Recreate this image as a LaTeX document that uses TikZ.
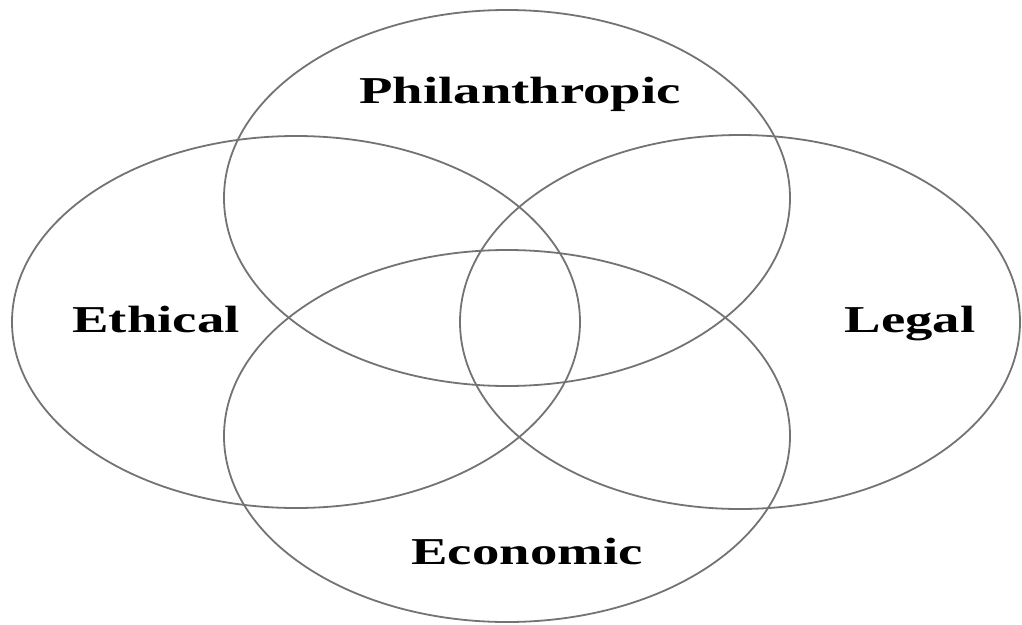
\documentclass[tikz,border=0pt]{standalone}
\usepackage{fontspec}
\setmainfont{Liberation Serif}
\begin{document}
\begin{tikzpicture}[x=1pt,y=-1pt,
  ring/.style={draw=black!55, line width=1.8pt},
  lbl/.style={anchor=base, inner sep=0pt, xscale=1.44, font=\fontsize{38}{40}\selectfont\bfseries, text=black}]
\useasboundingbox (0,0) rectangle (1022,624);
\coordinate (cTop) at (507,198);
\coordinate (cBot) at (507,436);
\coordinate (cLeft) at (296,322);
\coordinate (cRight) at (740,322);
\draw[ring] (cTop) ellipse [x radius=283, y radius=188];
\draw[ring] (cBot) ellipse [x radius=283, y radius=186];
\draw[ring] (cLeft) ellipse [x radius=284, y radius=186];
\draw[ring] (cRight) ellipse [x radius=280, y radius=187];
\node[lbl] (phil) at (520,103) {Philanthropic};
\node[lbl] (eth) at (156,332) {Ethical};
\node[lbl] (leg) at (910,332) {Legal};
\node[lbl] (eco) at (527,564) {Economic};
\end{tikzpicture}
\end{document}
